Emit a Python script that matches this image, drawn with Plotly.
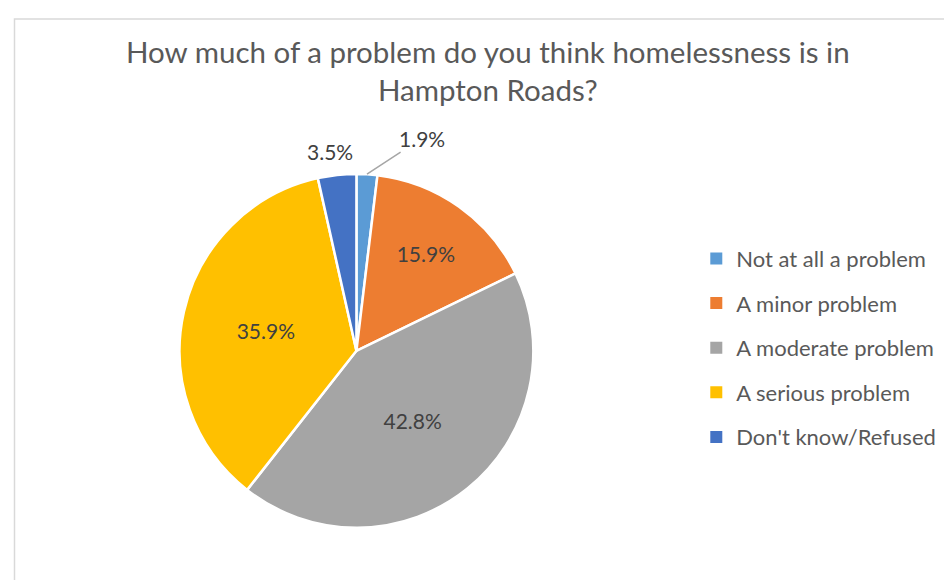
import math
import plotly.graph_objects as go

# datos del gráfico
categorias = ["Not at all a problem", "A minor problem", "A moderate problem",
              "A serious problem", "Don't know/Refused"]
porcentajes = [1.9, 15.9, 42.8, 35.9, 3.5]
colores = ["#5B9BD5", "#ED7D31", "#A5A5A5", "#FFC000", "#4472C4"]
posiciones_texto = ["none", "inside", "inside", "inside", "none"]

titulo = "How much of a problem do you think homelessness is in<br>Hampton Roads?"
fuente = "Lato"
gris_texto = "#595959"

W, H = 952, 580
dom_x = [0.121, 0.611]
dom_y = [0.104, 0.714]

fig = go.Figure()

fig.add_trace(go.Pie(
    labels=categorias,
    values=porcentajes,
    sort=False,
    direction="clockwise",
    rotation=0,
    marker=dict(colors=colores, line=dict(color="white", width=2.5)),
    texttemplate="%{value:.1f}%",
    textposition=posiciones_texto,
    textfont=dict(family=fuente, size=21, color="#404040"),
    insidetextorientation="horizontal",
    showlegend=False,
    hoverinfo="label+percent",
    domain=dict(x=dom_x, y=dom_y),
))

# etiquetas externas de las porciones pequeñas, calculadas desde el ángulo de cada porción
cx = (dom_x[0] + dom_x[1]) / 2
cy = (dom_y[0] + dom_y[1]) / 2
radio_px = (dom_y[1] - dom_y[0]) * H / 2


def borde_porcion(i):
    inicio = sum(porcentajes[:i])
    ang = math.radians((inicio + porcentajes[i] / 2) / 100 * 360)
    return cx + radio_px * math.sin(ang) / W, cy + radio_px * math.cos(ang) / H


# 1.9% con línea guía
x1, y1 = borde_porcion(0)
fig.add_annotation(
    x=x1, y=y1, xref="paper", yref="paper",
    text=f"{porcentajes[0]:.1f}%",
    showarrow=True, arrowhead=0, arrowwidth=1.5, arrowcolor="#A6A6A6",
    ax=55, ay=-36,
    font=dict(family=fuente, size=21, color="#404040"),
)

# 3.5% sin línea
x5, y5 = borde_porcion(4)
fig.add_annotation(
    x=x5, y=y5, xref="paper", yref="paper",
    text=f"{porcentajes[4]:.1f}%",
    showarrow=False, xanchor="center", yanchor="middle", xshift=-7, yshift=23,
    font=dict(family=fuente, size=21, color="#404040"),
)

# leyenda con separación parecida a Excel: una entrada por categoría
for nombre, color in zip(categorias, colores):
    fig.add_trace(go.Scatter(
        x=[None], y=[None], mode="markers", name=nombre, legendgroup=nombre,
        marker=dict(symbol="square", size=9, color=color),
    ))

fig.update_layout(
    width=W,
    height=H,
    margin=dict(l=0, r=0, t=0, b=0),
    paper_bgcolor="white",
    plot_bgcolor="white",
    title=dict(text=titulo, x=0.504, xanchor="center", y=0.905, yanchor="top",
               font=dict(family=fuente, size=29.5, color=gris_texto)),
    xaxis=dict(visible=False),
    yaxis=dict(visible=False),
    legend=dict(x=0.723, y=0.604, xanchor="left", yanchor="top",
                font=dict(family=fuente, size=22, color=gris_texto),
                tracegroupgap=13, itemsizing="constant"),
    shapes=[dict(type="rect", xref="paper", yref="paper",
                 x0=6.5 / W, x1=1.05, y0=-0.05, y1=1 - 11 / H,
                 line=dict(color="#D9D9D9", width=1.5))],
)

fig.write_html("out.html")
